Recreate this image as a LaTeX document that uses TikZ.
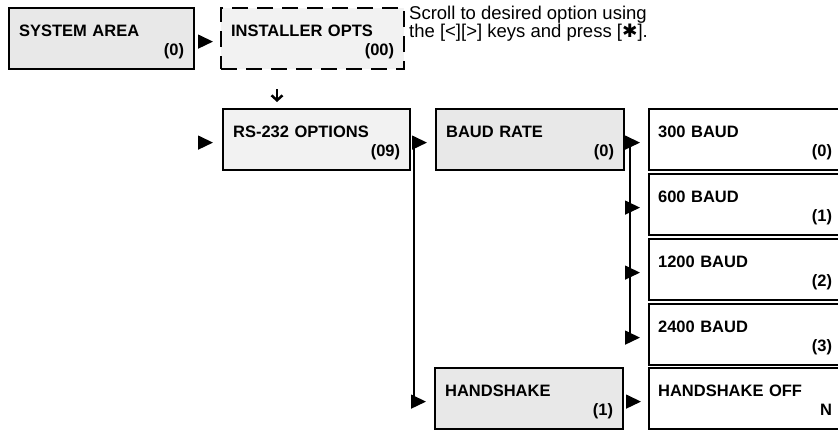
\documentclass[tikz,border=0pt]{standalone}
\usepackage{fontspec}
\setmainfont{Liberation Sans}
\newfontfamily\symfont{DejaVu Sans}
\usetikzlibrary{arrows.meta,
	calc,
	positioning}

\tikzset{
	menu/.style={draw, line width=2.2pt, anchor=north west, inner xsep=10pt, inner ysep=0pt,
		align=left, text height=28pt, text depth=33pt,
		font=\fontsize{16.5}{19}\selectfont\bfseries},
	lbox/.style={menu, text width=165pt},
	mbox/.style={menu, text width=168pt},
	rbox/.style={menu, inner xsep=9pt, text width=174pt, fill=white},
	dots/.style={fill=black!9},
	dotslight/.style={fill=black!5},
	tri/.style={line width=1.5pt, -{Triangle[length=15pt,width=14pt]}, shorten >=8pt},
	darr/.style={line width=2.5pt, -{Straight Barb[length=5pt,width=11pt]}},
}

\begin{document}
\begin{tikzpicture}[x=1pt,y=-1pt]
	\useasboundingbox (0,0) rectangle (838,431);
	\node[lbox,dots] (sys) at (8,7) {SYSTEM AREA\\\hfill(0)};
	\node[lbox,dotslight,text width=163pt,dash pattern=on 16pt off 9pt] (opts) at (220,7) {INSTALLER OPTS\\\hfill(00)};
	\node[anchor=north west, align=left, inner sep=0pt, font=\fontsize{18.5}{17}\selectfont] (hint) at (409,6)
		{Scroll to desired option using\\the [<][>] keys and press [{\symfont ✱}].};
	\node[lbox,dotslight,text width=167pt] (rs) at (222,108) {RS-232 OPTIONS\\\hfill(09)};
	\node[mbox,dots] (baud) at (435,108) {BAUD RATE\\\hfill(0)};
	\node[mbox,dots] (hs) at (434,367) {HANDSHAKE\\\hfill(1)};
	\foreach \rate/\code [count=\i] in {300/0,600/1,1200/2,2400/3} {
		\node[rbox] (b\rate) at (648,{108+65*(\i-1)}) {\rate\ BAUD\\\hfill(\code)};
	}
	\node[rbox] (hsoff) at (648,367) {HANDSHAKE OFF\\\hfill N};
	\draw[tri, shorten >=7pt] ([xshift=5pt,yshift=-3pt]sys.east) -- ([yshift=-3pt]sys.east -| opts.west);
	\draw[darr, shorten <=19pt, shorten >=6pt] ([xshift=57pt]opts.south west) -- ([xshift=57pt]opts.south west |- rs.north);
	\coordinate (rsin) at ([xshift=-24pt,yshift=-3pt]rs.west);
	\draw[tri, shorten >=9pt] (rsin) -- ([yshift=-3pt]rs.west);
	\coordinate (bus1) at ([xshift=3pt,yshift=-3pt]rs.east);
	\draw[tri] (bus1) -- (bus1 -| baud.west);
	\draw[tri] (bus1) |- ([yshift=-3pt]hs.west);
	\coordinate (bus2) at ([xshift=5pt,yshift=-3pt]baud.east);
	\foreach \rate in {300,600,1200,2400} {
		\draw[tri] (bus2) |- ([yshift=-3pt]b\rate.west);
	}
	\draw[tri, shorten >=7pt] ([xshift=4pt,yshift=-3pt]hs.east) -- ([yshift=-3pt]hsoff.west);
\end{tikzpicture}
\end{document}
